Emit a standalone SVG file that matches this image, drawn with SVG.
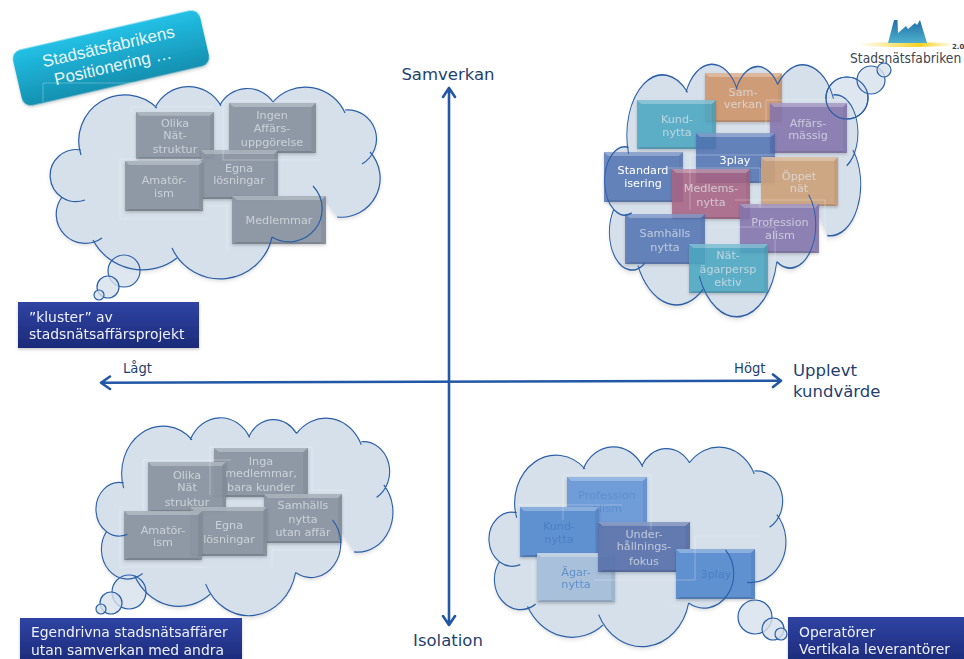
<svg xmlns="http://www.w3.org/2000/svg" width="964" height="659" viewBox="0 0 964 659">
<style>
text{font-family:"DejaVu Sans","Verdana",sans-serif}
.t{font-size:11.2px;text-anchor:middle;fill:#dfe5ea;fill-opacity:.72}
.w{fill:#fff;fill-opacity:1}
.bt{fill:#5f90cb;fill-opacity:1}
.lab{font-size:13.900px;fill:#eef1fa}
.ax{fill:#1f3f70;font-size:16.500px}
.sm{font-size:13.200px;fill:#1f3f70}
.cf{fill:#d6e0eb;filter:url(#sh)}
.cl{fill:none;stroke:#2b5fa8;stroke-width:1.2;vector-effect:non-scaling-stroke}
.bub{fill:#d6e0eb;fill-opacity:.8;stroke:#2b5fa8;stroke-width:1.2}
.bo{fill:none;stroke:#2b5fa8;stroke-width:1.2}
.axis{fill:none;stroke:#2257a5;stroke-width:2.6;stroke-linecap:round;stroke-linejoin:round}
.g{fill:#8b96a2;opacity:.92}
.o{fill:#d2966a;opacity:.85}
.tl{fill:#4ea8c4;opacity:.85}
.p{fill:#8576b0;opacity:.85}
.bl{fill:#4f72b4;opacity:.8}
.tan{fill:#cfa47d;opacity:.9}
.r{fill:#aa6684;opacity:.85}
.b1{fill:#6f9cd8}
.b2{fill:#5f90d0}
.b3{fill:#5a73ad;opacity:.9}
.b4{fill:#a9c0da}
.ghost{fill:none;stroke:#fff;stroke-width:.8;opacity:.35}
</style>
<defs>
<filter id="sh" x="-10%" y="-10%" width="120%" height="125%"><feDropShadow dx="0" dy="2" stdDeviation="2" flood-color="#000" flood-opacity=".15"/></filter>
<filter id="bs" x="-10%" y="-10%" width="120%" height="125%"><feDropShadow dx="0" dy="1.500" stdDeviation="1.500" flood-color="#000" flood-opacity=".22"/></filter>
<linearGradient id="navy" x1="0" y1="0" x2="0" y2="1"><stop offset="0" stop-color="#2f44a2"/><stop offset="1" stop-color="#1c2a7a"/></linearGradient>
<linearGradient id="teal" x1="0" y1="0" x2="0" y2="1"><stop offset="0" stop-color="#22c0e6"/><stop offset="1" stop-color="#1590b0"/></linearGradient>
<linearGradient id="mt" x1="0" y1="0" x2="0" y2="1"><stop offset="0" stop-color="#1f6fa8"/><stop offset="1" stop-color="#4fb0cc"/></linearGradient>
<linearGradient id="sun" x1="0" y1="0" x2="1" y2="0"><stop offset="0" stop-color="#f5d21f" stop-opacity="0"/><stop offset=".65" stop-color="#f5d21f"/><stop offset="1" stop-color="#f5d21f" stop-opacity="0"/></linearGradient>
<path id="cloudFill" d="M102,238A29,29 0 0 1 62,197L85,200A26,26 0 1 1 81,150L81,155A46,46 0 0 1 157,108L155,108A37,37 0 0 1 221,106L220,105A31,31 0 0 1 273,102L273,102A43,43 0 0 1 345,113L345,110A29,29 0 0 1 362,164L370,152A39,39 0 0 1 337,217L313,186A33,33 0 0 1 272,237L272,237A53,53 0 0 1 172,248L177,258A56,56 0 0 1 93,240Z"/>
<path id="cloudLine" d="M102,238A29,29 0 0 1 62,197M85,200A26,26 0 1 1 81,150M81,155A46,46 0 0 1 157,108M155,108A37,37 0 0 1 221,106M220,105A31,31 0 0 1 273,102M273,102A43,43 0 0 1 345,113M345,110A29,29 0 0 1 362,164M370,152A39,39 0 0 1 337,217M313,186A33,33 0 0 1 272,237M272,237A53,53 0 0 1 172,248M177,258A56,56 0 0 1 93,240"/>
<symbol id="bx" viewBox="0 0 78 49" preserveAspectRatio="none">
<rect width="78" height="49"/>
<path d="M0,0H78L74,4H4Z" fill="#fff" fill-opacity=".28"/>
<path d="M78,0L74,4V46L78,49Z" fill="#000" fill-opacity=".06"/>
<path d="M0,49L4,47H74L78,49Z" fill="#000" fill-opacity=".15"/>
</symbol>
</defs>
<rect width="964" height="659" fill="#fff"/>

<g id="logo">
<ellipse cx="906" cy="44.500" rx="48" ry="2.400" fill="url(#sun)"/>
<path d="M888,43L894,20H897.500L898,33L906,26L908,29L915,23L917,25L920,20L927,43Z" fill="url(#mt)"/>
<text x="850" y="63" style="font-family:'DejaVu Sans Condensed','DejaVu Sans',sans-serif;font-size:13.700px" fill="#3d4650">Stadsnätsfabriken</text>
<text x="952" y="49" style="font-size:7px;font-weight:bold" fill="#3d4650">2.0</text>
</g>

<g id="title">
<g transform="translate(111 58) rotate(-13)">
<rect x="-96" y="-28.500" width="192" height="57" rx="9" fill="url(#teal)" filter="url(#bs)"/>
<text text-anchor="middle" style="font-family:'Liberation Sans',Arial,sans-serif;font-size:17px" fill="#e8f6fa"><tspan x="0" y="-6">Stadsätsfabrikens</tspan><tspan x="0" y="14">Positionering …</tspan></text>
</g>
<path class="ghost" d="M43,102V83H133"/>
</g>

<g id="connectors">
<path class="axis" d="M449,88V625M443,97L449,88L455,97M443,616L449,625L455,616"/>
<path class="axis" d="M101,382.700L781,380.700M110,376.500L101,382.700L110,389M773,374.500L781,380.700L773,387"/>
</g>

<g id="axis-labels">
<text class="ax" x="448" y="80" text-anchor="middle">Samverkan</text>
<text class="ax" x="448" y="646" text-anchor="middle">Isolation</text>
<text class="sm" x="123" y="373">Lågt</text>
<text class="sm" x="734" y="373">Högt</text>
<text class="ax" x="793" y="376">Upplevt</text>
<text class="ax" x="793" y="397">kundvärde</text>
</g>

<!-- Cloud 1 -->
<g id="cloud-1-back">
<use href="#cloudFill" class="cf"/>
<circle class="bub" cx="124" cy="271" r="16"/><circle class="bub" cx="108" cy="287" r="11"/><circle class="bub" cx="99" cy="295" r="5"/>
</g>
<g id="c1-olika" filter="url(#bs)"><use href="#bx" class="g" x="136" y="112" width="78" height="47"/><text class="t"><tspan x="175" y="127">Olika</tspan><tspan x="175" y="139">Nät-</tspan><tspan x="175" y="153">struktur</tspan></text></g>
<g id="c1-ingen" filter="url(#bs)"><use href="#bx" class="g" x="229" y="103" width="87" height="50"/><text class="t"><tspan x="272" y="119">Ingen</tspan><tspan x="272" y="132">Affärs-</tspan><tspan x="272" y="146">uppgörelse</tspan></text></g>
<g id="c1-egna" filter="url(#bs)"><use href="#bx" class="g" x="201" y="150" width="77" height="49"/><text class="t"><tspan x="239" y="172">Egna</tspan><tspan x="239" y="184">lösningar</tspan></text></g>
<g id="c1-amator" filter="url(#bs)"><use href="#bx" class="g" x="125" y="161" width="78" height="50"/><text class="t"><tspan x="164" y="184">Amatör-</tspan><tspan x="164" y="197">ism</tspan></text></g>
<g id="c1-medlemmar" filter="url(#bs)"><use href="#bx" class="g" x="232" y="196" width="94" height="48"/><text class="t" x="279" y="224">Medlemmar</text></g>
<g id="cloud-1-line"><use href="#cloudLine" class="cl"/><path class="ghost" d="M120,219V159H203M120,219H208M223,160V101H320M223,160H320M208,206H227V251M131,112V107H214M43,304V309H199"/></g>
<g id="label-kluster" filter="url(#bs)"><rect x="18" y="302" width="181" height="46" fill="url(#navy)"/><text class="lab"><tspan x="29" y="322">”kluster” av</tspan><tspan x="29" y="339">stadsnätsaffärsprojekt</tspan></text></g>

<!-- Cloud 2 -->
<g id="cloud-2-back">
<use href="#cloudFill" class="cf" transform="translate(603 62) scale(.776 1.314) translate(-48 -85)"/>
<circle class="bub" cx="847" cy="98" r="21"/><circle class="bub" cx="871" cy="80" r="14"/><circle class="bub" cx="884" cy="70" r="7"/>
</g>
<g id="c2-samverkan" filter="url(#bs)"><use href="#bx" class="o" x="705" y="73" width="77" height="49"/><text class="t"><tspan x="743" y="96">Sam-</tspan><tspan x="743" y="108">verkan</tspan></text></g>
<g id="c2-kundnytta" filter="url(#bs)"><use href="#bx" class="tl" x="637" y="100" width="79" height="49"/><text class="t"><tspan x="677" y="123">Kund-</tspan><tspan x="677" y="136">nytta</tspan></text></g>
<g id="c2-affars" filter="url(#bs)"><use href="#bx" class="p" x="770" y="103" width="77" height="50"/><text class="t"><tspan x="808" y="127">Affärs-</tspan><tspan x="808" y="139">mässig</tspan></text></g>
<g id="c2-3play" filter="url(#bs)"><use href="#bx" class="bl" x="696" y="133" width="79" height="50"/><text class="t w" x="735" y="164">3play</text></g>
<g id="c2-oppet" filter="url(#bs)"><use href="#bx" class="tan" x="761" y="157" width="77" height="49"/><text class="t"><tspan x="799" y="180">Öppet</tspan><tspan x="799" y="192">nät</tspan></text></g>
<g id="c2-standard" filter="url(#bs)"><use href="#bx" class="bl" x="604" y="152" width="79" height="50"/><text class="t w"><tspan x="643" y="174">Standard</tspan><tspan x="643" y="187">isering</tspan></text></g>
<g id="c2-medlems" filter="url(#bs)"><use href="#bx" class="r" x="672" y="169" width="78" height="50"/><text class="t"><tspan x="711" y="192">Medlems-</tspan><tspan x="711" y="206">nytta</tspan></text></g>
<g id="c2-profession" filter="url(#bs)"><use href="#bx" class="p" x="740" y="204" width="79" height="49"/><text class="t"><tspan x="780" y="226">Profession</tspan><tspan x="780" y="239">alism</tspan></text></g>
<g id="c2-samhalls" filter="url(#bs)"><use href="#bx" class="bl" x="625" y="214" width="80" height="50"/><text class="t"><tspan x="665" y="237">Samhälls</tspan><tspan x="665" y="251">nytta</tspan></text></g>
<g id="c2-natagar" filter="url(#bs)"><use href="#bx" class="tl" x="689" y="244" width="79" height="49"/><text class="t"><tspan x="728" y="259">Nät-</tspan><tspan x="728" y="273">ägarpersp</tspan><tspan x="728" y="286">ektiv</tspan></text></g>
<g id="cloud-2-line"><use href="#cloudLine" class="cl" transform="translate(603 62) scale(.776 1.314) translate(-48 -85)"/><circle class="bo" cx="847" cy="98" r="21"/><path class="ghost" d="M766,100H852M766,100V130M690,155H775M690,155V210M668,168H760V208M735,200H825V240M710,227H775V260"/></g>

<!-- Cloud 3 -->
<g id="cloud-3-back">
<use href="#cloudFill" class="cf" transform="translate(94 416) scale(.9 1.03) translate(-48 -85)"/>
<circle class="bub" cx="129" cy="592" r="17"/><circle class="bub" cx="111" cy="603" r="11"/><circle class="bub" cx="101" cy="609" r="5"/>
</g>
<g id="c3-inga" filter="url(#bs)"><use href="#bx" class="g" x="214" y="448" width="94" height="49"/><text class="t"><tspan x="261" y="465">Inga</tspan><tspan x="261" y="477">medlemmar,</tspan><tspan x="261" y="491">bara kunder</tspan></text></g>
<g id="c3-olika" filter="url(#bs)"><use href="#bx" class="g" x="148" y="462" width="78" height="50"/><text class="t"><tspan x="187" y="479">Olika</tspan><tspan x="187" y="491">Nät</tspan><tspan x="187" y="506">struktur</tspan></text></g>
<g id="c3-samhalls" filter="url(#bs)"><use href="#bx" class="g" x="264" y="494" width="78" height="49"/><text class="t"><tspan x="303" y="509">Samhälls</tspan><tspan x="303" y="523">nytta</tspan><tspan x="303" y="536">utan affär</tspan></text></g>
<g id="c3-egna" filter="url(#bs)"><use href="#bx" class="g" x="190" y="507" width="77" height="49"/><text class="t"><tspan x="229" y="529">Egna</tspan><tspan x="229" y="543">lösningar</tspan></text></g>
<g id="c3-amator" filter="url(#bs)"><use href="#bx" class="g" x="124" y="511" width="78" height="49"/><text class="t"><tspan x="163" y="534">Amatör-</tspan><tspan x="163" y="546">ism</tspan></text></g>
<g id="cloud-3-line"><use href="#cloudLine" class="cl" transform="translate(94 416) scale(.9 1.03) translate(-48 -85)"/><path class="ghost" d="M143,510V460H231M210,495V447H312V490H346M120,508V567H207M272,567V550H346M90,618H242"/></g>
<g id="label-egendrivna" filter="url(#bs)"><rect x="20" y="618" width="222" height="45" fill="url(#navy)"/><text class="lab"><tspan x="31" y="637">Egendrivna stadsnätsaffärer</tspan><tspan x="31" y="655">utan samverkan med andra</tspan></text></g>

<!-- Cloud 4 -->
<g id="cloud-4-back">
<use href="#cloudFill" class="cf" transform="translate(487 445) scale(.9 1.04) translate(-48 -85)"/>
<circle class="bub" cx="755" cy="617" r="17"/><circle class="bub" cx="773" cy="629" r="11"/><circle class="bub" cx="781" cy="634" r="6"/>
</g>
<g id="c4-profession" filter="url(#bs)"><use href="#bx" class="b1" x="567" y="477" width="80" height="49"/><text class="t bt"><tspan x="607" y="499">Profession</tspan><tspan x="607" y="512">alism</tspan></text></g>
<g id="c4-kund" filter="url(#bs)"><use href="#bx" class="b2" x="520" y="507" width="79" height="50"/><text class="t bt" style="fill:#4a80c4"><tspan x="559" y="530">Kund-</tspan><tspan x="559" y="543">nytta</tspan></text></g>
<g id="c4-agarnytta" filter="url(#bs)"><use href="#bx" class="b4" x="537" y="553" width="78" height="49"/><text class="t bt"><tspan x="576" y="576">Ägar-</tspan><tspan x="576" y="588">nytta</tspan></text></g>
<g id="c4-under" filter="url(#bs)"><use href="#bx" class="b3" x="598" y="522" width="92" height="50"/><text class="t"><tspan x="644" y="538">Under-</tspan><tspan x="644" y="550">hållnings-</tspan><tspan x="644" y="565">fokus</tspan></text></g>
<g id="c4-3play" filter="url(#bs)"><use href="#bx" class="b2" x="676" y="549" width="79" height="50"/><text class="t bt" style="fill:#4a80c4" x="716" y="578">3play</text></g>
<g id="cloud-4-line"><use href="#cloudLine" class="cl" transform="translate(487 445) scale(.9 1.04) translate(-48 -85)"/><path class="ghost" d="M563,520V475H651V530M518,505H622M533,600V565M594,580H695V536H760M671,606H680"/></g>
<g id="label-operatorer" filter="url(#bs)"><rect x="788" y="617" width="176" height="46" fill="url(#navy)"/><text class="lab"><tspan x="799" y="637">Operatörer</tspan><tspan x="799" y="654">Vertikala leverantörer</tspan></text></g>
</svg>
